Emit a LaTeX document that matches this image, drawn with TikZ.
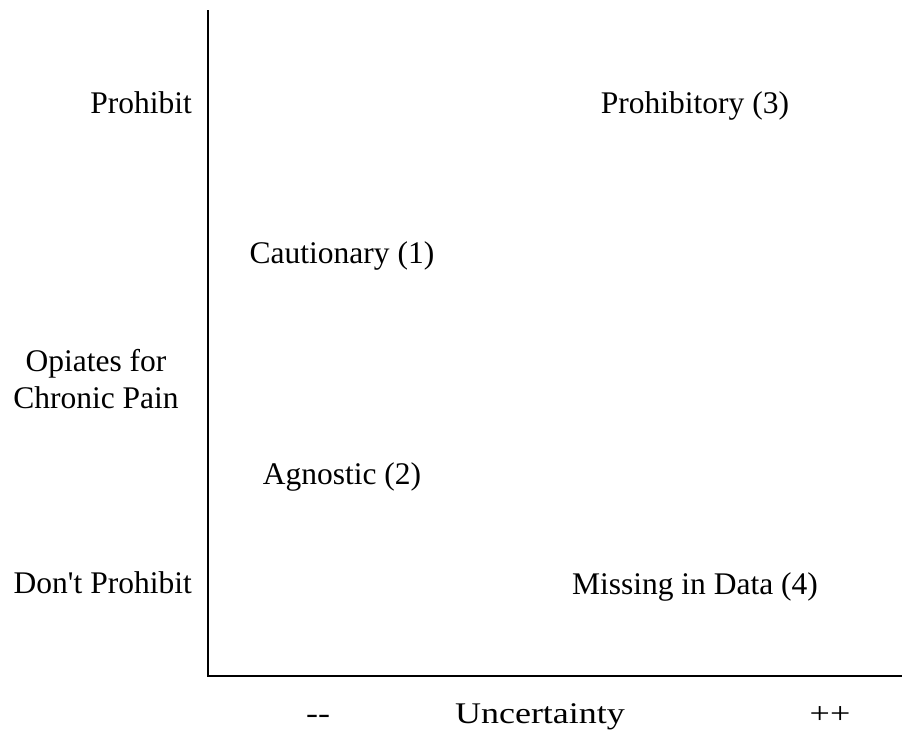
\documentclass[tikz,border=0pt]{standalone}
\usepackage{fontspec}
\setmainfont{Liberation Serif}
\usetikzlibrary{calc}
\begin{document}
\begin{tikzpicture}[x=1pt,y=-1pt,
	lbl/.style={font=\fontsize{31.5}{37}\selectfont,inner sep=0pt},
	ax/.style={font=\fontsize{30}{36}\selectfont\addfontfeature{FakeStretch=1.2},inner sep=0pt,anchor=base},
	axis/.style={line width=2.2pt}]
	\useasboundingbox (0,0) rectangle (902,734);
	% axes
	\coordinate (top) at (208,10);
	\coordinate (orig) at (208,676);
	\coordinate (right) at (902,676);
	\draw[axis] (top) -- (orig) -- (right);
	% vertical scale
	\node[lbl,anchor=base east] (hi) at (192,113) {Prohibit};
	\node[lbl,align=center] (mid) at (96,379) {Opiates for\\Chronic Pain};
	\node[lbl,anchor=base east] (lo) at (192,593) {Don\textquotesingle t Prohibit};
	% quadrants
	\node[lbl,anchor=base] (q3) at (695,113) {Prohibitory (3)};
	\node[lbl,anchor=base] (q1) at (342,263) {Cautionary (1)};
	\node[lbl,anchor=base] (q2) at (342,484) {Agnostic (2)};
	\node[lbl,anchor=base] (q4) at (695,594) {Missing in Data (4)};
	% horizontal scale
	\node[ax] (minus) at (318,723) {-{}-};
	\node[ax] (unc) at (540,723) {Uncertainty};
	\node[ax] (plus) at (830,723) {++};
\end{tikzpicture}
\end{document}
